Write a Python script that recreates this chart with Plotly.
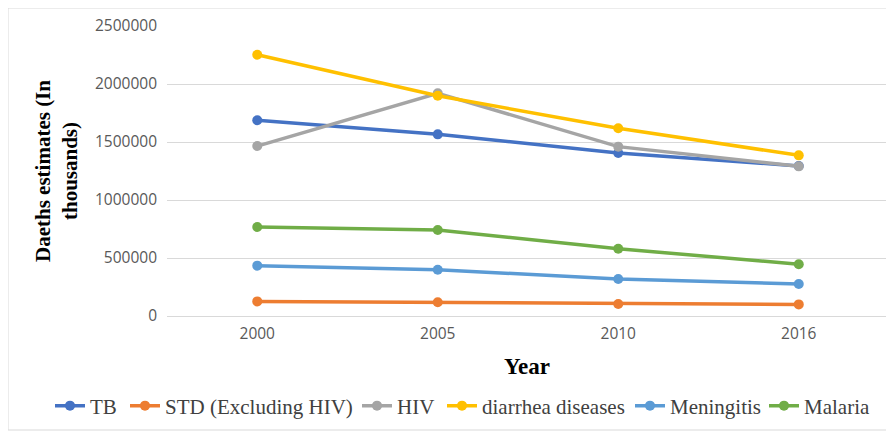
import plotly.graph_objects as go

years = ["2000", "2005", "2010", "2016"]
tb = [1687000, 1566000, 1405000, 1293000]
std = [126000, 118000, 103000, 100000]
hiv = [1465000, 1920000, 1460000, 1290000]
diarrhea = [2252000, 1899000, 1618000, 1385000]
meningitis = [434000, 399000, 319000, 276000]
malaria = [767000, 741000, 580000, 446000]

series = [
    ("TB", tb, "#4472C4"),
    ("STD (Excluding HIV)", std, "#ED7D31"),
    ("HIV", hiv, "#A5A5A5"),
    ("diarrhea diseases", diarrhea, "#FFC000"),
    ("Meningitis", meningitis, "#5B9BD5"),
    ("Malaria", malaria, "#70AD47"),
]

# screen x where each legend label text starts
legend_text_x = [88, 163, 395, 480, 668, 802]

# page body has an 8px margin, so the figure is drawn 8px right/down
OFF = 8
W, H = 894 - OFF, 431 - OFF
L, R, T, B = 159, 5, 18, 115
pw, ph = W - L - R, H - T - B

def px(s):
    return (s - OFF - L) / pw

def py(s):
    return (H - B - (s - OFF)) / ph

fig = go.Figure()
legend_layouts = {}
for i, (name, vals, col) in enumerate(series):
    key = "legend" if i == 0 else f"legend{i + 1}"
    fig.add_trace(go.Scatter(
        x=years, y=vals, name=name, mode="lines+markers",
        line=dict(color=col, width=3.5),
        marker=dict(color=col, size=10),
        legend=key,
    ))
    legend_layouts[key] = dict(
        orientation="h", xref="container", yref="container",
        x=(legend_text_x[i] - 38 - OFF) / W, xanchor="left",
        y=1 - (406 - OFF) / H, yanchor="middle",
        font=dict(family="Liberation Serif", size=21, color="#404040"),
        itemwidth=30, bgcolor="rgba(0,0,0,0)",
    )

fig.update_layout(
    width=W, height=H,
    margin=dict(l=L, r=R, t=T, b=B, autoexpand=False),
    plot_bgcolor="white", paper_bgcolor="white",
    showlegend=True,
    xaxis=dict(type="category", range=[-0.5, 3.5], showgrid=False, showline=False,
               ticks="", ticklabelstandoff=6,
               tickfont=dict(family="Open Sans", size=15.5, color="#595959")),
    yaxis=dict(range=[0, 2500000], dtick=500000, tickformat="d", showgrid=True,
               gridcolor="#D9D9D9", gridwidth=1, zeroline=True, zerolinecolor="#D9D9D9",
               zerolinewidth=1, showline=False, ticks="", ticklabelstandoff=9,
               tickfont=dict(family="Open Sans", size=15.5, color="#595959")),
    annotations=[
        dict(text="<b>Daeths estimates (In<br>thousands)</b>", xref="paper", yref="paper",
             x=px(56), y=py(171), xanchor="center", yanchor="middle", textangle=-90,
             showarrow=False, font=dict(family="Liberation Serif", size=21, color="#000000")),
        dict(text="<b>Year</b>", xref="paper", yref="paper",
             x=px(527), y=py(366), xanchor="center", yanchor="middle",
             showarrow=False, font=dict(family="Liberation Serif", size=23, color="#000000")),
    ],
    shapes=[
        dict(type="rect", xref="paper", yref="paper",
             x0=px(8), x1=px(893), y0=py(430), y1=py(8),
             line=dict(color="#D9D9D9", width=1), fillcolor="rgba(0,0,0,0)", layer="below"),
    ],
    **legend_layouts,
)

fig.write_html("out.html")
